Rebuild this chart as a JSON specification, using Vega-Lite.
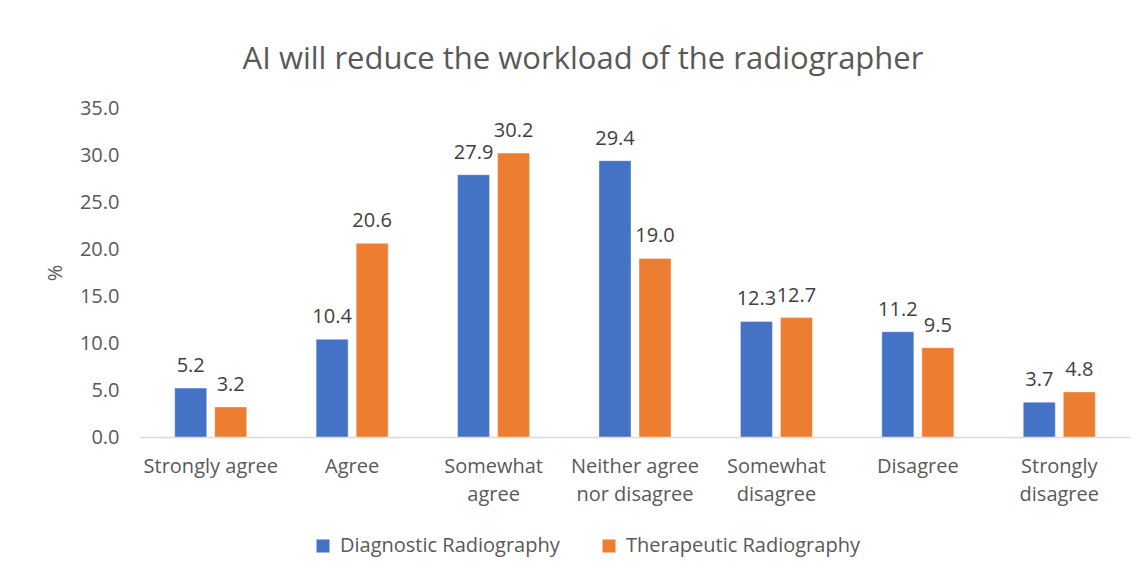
{
  "$schema": "https://vega.github.io/schema/vega-lite/v6.json",
  "width": 990,
  "height": 329,
  "autosize": {"type": "none"},
  "padding": {"left": 140, "top": 108, "right": 16, "bottom": 139},
  "background": "white",
  "config": {
    "font": "Open Sans",
    "view": {"stroke": null}
  },
  "title": {
    "text": "AI will reduce the workload of the radiographer",
    "fontSize": 31,
    "fontWeight": "normal",
    "color": "#595959",
    "anchor": "middle",
    "dx": -52,
    "offset": 22
  },
  "data": {
    "values": [
      {"response": "Strongly agree", "group": "Diagnostic Radiography", "pct": 5.2},
      {"response": "Strongly agree", "group": "Therapeutic Radiography", "pct": 3.2},
      {"response": "Agree", "group": "Diagnostic Radiography", "pct": 10.4},
      {"response": "Agree", "group": "Therapeutic Radiography", "pct": 20.6},
      {"response": "Somewhat agree", "group": "Diagnostic Radiography", "pct": 27.9},
      {"response": "Somewhat agree", "group": "Therapeutic Radiography", "pct": 30.2},
      {"response": "Neither agree nor disagree", "group": "Diagnostic Radiography", "pct": 29.4},
      {"response": "Neither agree nor disagree", "group": "Therapeutic Radiography", "pct": 19.0},
      {"response": "Somewhat disagree", "group": "Diagnostic Radiography", "pct": 12.3},
      {"response": "Somewhat disagree", "group": "Therapeutic Radiography", "pct": 12.7},
      {"response": "Disagree", "group": "Diagnostic Radiography", "pct": 11.2},
      {"response": "Disagree", "group": "Therapeutic Radiography", "pct": 9.5},
      {"response": "Strongly disagree", "group": "Diagnostic Radiography", "pct": 3.7},
      {"response": "Strongly disagree", "group": "Therapeutic Radiography", "pct": 4.8}
    ]
  },
  "encoding": {
    "x": {
      "field": "response",
      "type": "nominal",
      "sort": null,
      "scale": {"paddingInner": 0.434, "paddingOuter": 0.217},
      "axis": {
        "title": null,
        "labelAngle": 0,
        "labelFontSize": 20,
        "labelColor": "#595959",
        "labelPadding": 19,
        "labelLineHeight": 28,
        "labelBaseline": "top",
        "labelLimit": 0,
        "ticks": false,
        "domainColor": "#D9D9D9",
        "domainWidth": 1.5,
        "labelExpr": "datum.value == 'Neither agree nor disagree' ? ['Neither agree', 'nor disagree'] : (datum.value == 'Strongly agree' ? datum.value : split(datum.value, ' '))"
      }
    },
    "xOffset": {
      "field": "group",
      "type": "nominal",
      "scale": {"paddingInner": 0.2, "paddingOuter": 0.1}
    },
    "y": {
      "field": "pct",
      "type": "quantitative",
      "scale": {"domain": [0, 35]},
      "axis": {
        "title": "%",
        "titleFontSize": 20,
        "titleFontWeight": "normal",
        "titleColor": "#595959",
        "titlePadding": 14,
        "values": [0, 5, 10, 15, 20, 25, 30, 35],
        "format": ".1f",
        "labelFontSize": 20,
        "labelColor": "#595959",
        "labelPadding": 21,
        "ticks": false,
        "domain": false,
        "grid": false
      }
    }
  },
  "layer": [
    {
      "mark": {"type": "bar", "stroke": "white", "strokeOpacity": 0.4, "strokeWidth": 1},
      "encoding": {
        "color": {
          "field": "group",
          "type": "nominal",
          "scale": {"range": ["#4472C4", "#ED7D31"]},
          "legend": {
            "title": null,
            "orient": "none",
            "direction": "horizontal",
            "legendX": 173,
            "legendY": 428,
            "symbolType": "square",
            "symbolSize": 170,
            "symbolStrokeWidth": 0,
            "labelFontSize": 20,
            "labelLimit": 0,
            "labelColor": "#595959",
            "columnPadding": 39,
            "labelOffset": 7
          }
        }
      }
    },
    {
      "mark": {"type": "text", "baseline": "bottom", "dy": -12, "fontSize": 20, "color": "#404040"},
      "encoding": {
        "text": {"field": "pct", "type": "quantitative", "format": ".1f"}
      }
    }
  ]
}
